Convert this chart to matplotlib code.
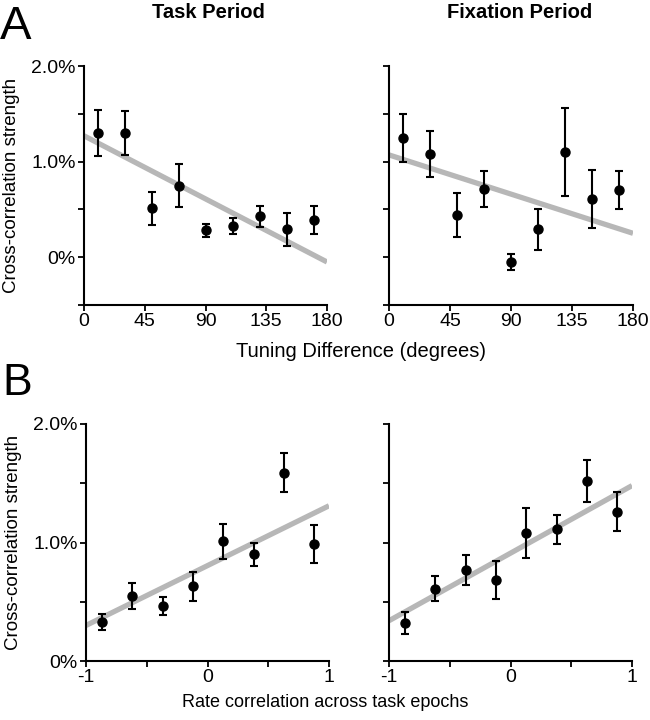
import matplotlib.pyplot as plt
import numpy as np

plt.rcParams['font.family'] = ['Liberation Sans', 'DejaVu Sans']

# Panel A: cross-correlation vs tuning difference
tuning_deg = [10, 30, 50, 70, 90, 110, 130, 150, 170]
task_tuning = [1.30, 1.30, 0.51, 0.75, 0.28, 0.33, 0.43, 0.29, 0.39]
task_tuning_err = [0.24, 0.23, 0.17, 0.22, 0.07, 0.085, 0.11, 0.17, 0.15]
fix_tuning = [1.25, 1.08, 0.44, 0.71, -0.05, 0.29, 1.10, 0.61, 0.70]
fix_tuning_err = [0.25, 0.24, 0.23, 0.19, 0.085, 0.215, 0.46, 0.30, 0.20]
fit_tuning_x = [0, 180]
fit_task_tuning = [1.27, -0.05]
fit_fix_tuning = [1.07, 0.25]

# Panel B: cross-correlation vs rate correlation
rate_corr = [-0.87, -0.62, -0.37, -0.12, 0.13, 0.38, 0.63, 0.88]
task_rate = [0.33, 0.55, 0.46, 0.63, 1.01, 0.90, 1.59, 0.99]
task_rate_err = [0.07, 0.11, 0.076, 0.12, 0.15, 0.095, 0.165, 0.16]
fix_rate = [0.32, 0.61, 0.77, 0.68, 1.08, 1.11, 1.52, 1.26]
fix_rate_err = [0.095, 0.105, 0.125, 0.16, 0.21, 0.12, 0.175, 0.165]
fit_rate_x = [-1, 1]
fit_task_rate = [0.30, 1.31]
fit_fix_rate = [0.34, 1.48]

fig = plt.figure(figsize=(6.5, 7.2), dpi=100)
W, H = 650.0, 720.0

def make_ax(x0, x1, ytop, ybot):
    return fig.add_axes([x0 / W, 1 - ybot / H, (x1 - x0) / W, (ybot - ytop) / H])

axA1 = make_ax(84, 327, 66, 305)
axA2 = make_ax(389, 633, 66, 305)
axB1 = make_ax(86, 329, 424, 661)
axB2 = make_ax(389, 632, 424, 661)

def style(ax):
    for s in ['top', 'right']:
        ax.spines[s].set_visible(False)
    for s in ['left', 'bottom']:
        ax.spines[s].set_linewidth(1.5)
    ax.tick_params(direction='out', length=4, width=1.3, labelsize=14, pad=2)

def draw(ax, x, y, err, fx, fy):
    ax.plot(fx, fy, color='#b7b7b7', lw=3.8, solid_capstyle='butt', zorder=1)
    ax.errorbar(x, y, yerr=err, fmt='o', color='black', ms=6.5, elinewidth=1.5,
                capsize=3, capthick=1.5, zorder=2, clip_on=False)

draw(axA1, tuning_deg, task_tuning, task_tuning_err, fit_tuning_x, fit_task_tuning)
draw(axA2, tuning_deg, fix_tuning, fix_tuning_err, fit_tuning_x, fit_fix_tuning)
draw(axB1, rate_corr, task_rate, task_rate_err, fit_rate_x, fit_task_rate)
draw(axB2, rate_corr, fix_rate, fix_rate_err, fit_rate_x, fit_fix_rate)

for ax in [axA1, axA2]:
    style(ax)
    ax.set_xlim(0, 180)
    ax.set_ylim(-0.5, 2.0)
    ax.set_xticks([0, 45, 90, 135, 180])
    ax.set_yticks([-0.5, 0, 0.5, 1.0, 1.5, 2.0])
    ax.set_yticklabels(['', '0%', '', '1.0%', '', '2.0%'])

for ax in [axB1, axB2]:
    style(ax)
    ax.set_xlim(-1, 1)
    ax.set_ylim(0, 2.0)
    ax.set_xticks([-1, -0.5, 0, 0.5, 1])
    ax.set_xticklabels(['-1', '', '0', '', '1'])
    ax.set_yticks([0, 0.5, 1.0, 1.5, 2.0])
    ax.set_yticklabels(['0%', '', '1.0%', '', '2.0%'])

for ax in [axA2, axB2]:
    ax.tick_params(labelleft=False)

for ax in [axA1, axB1]:
    ax.set_ylabel('Cross-correlation strength', fontsize=13.5)
    ax.yaxis.set_label_coords(-64 / 243.0, 0.5)

fig.text(208 / W, 1 - 12 / H, 'Task Period', fontsize=14.5, fontweight='bold',
         ha='center', va='center')
fig.text(520 / W, 1 - 12 / H, 'Fixation Period', fontsize=14.5, fontweight='bold',
         ha='center', va='center')
fig.text(361 / W, 1 - 357 / H, 'Tuning Difference (degrees)', fontsize=14.5,
         ha='center', va='baseline')
fig.text(325 / W, 1 - 707 / H, 'Rate correlation across task epochs', fontsize=13,
         ha='center', va='baseline')
fig.text(0 / W, 1 - 39 / H, 'A', fontsize=34, ha='left', va='baseline')
fig.text(2 / W, 1 - 395 / H, 'B', fontsize=32, ha='left', va='baseline')

fig.savefig('out.png', dpi=100)
